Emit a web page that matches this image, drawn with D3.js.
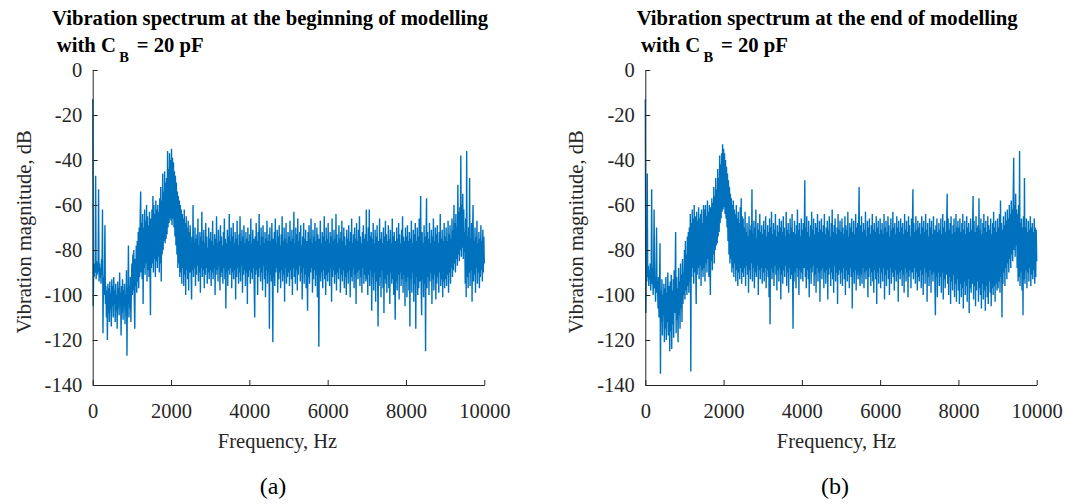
<!DOCTYPE html>
<html><head><meta charset="utf-8">
<script src="https://cdn.jsdelivr.net/npm/d3@7"></script>
<style>
body{margin:0;background:#fff}
svg{display:block}
text{font-family:"Liberation Serif","Times New Roman",Times,serif}
</style>
</head><body><svg id="c" width="1066" height="504"></svg>
<script>
// ---------------- data ----------------
const freqMax = 10000; // Hz, spectra sampled evenly from 0 to freqMax (12.5 Hz bins)
const xTickValues = [0, 2000, 4000, 6000, 8000, 10000];
const yTickValues = [0, -20, -40, -60, -80, -100, -120, -140];
const titlesLine1 = ["Vibration spectrum at the beginning of modelling", "Vibration spectrum at the end of modelling"];
const titleLine2 = ["with C", "B", "= 20 pF"];
const xLabel = "Frequency, Hz";
const yLabel = "Vibration magnitude, dB";
const captions = ["(a)", "(b)"];

// (a) beginning of modelling, magnitude in dB
const magA = [
-13,-105,-88,-92,-86,-90,-47,-93,-85,-91,-87,-90,-53,-94,-86,-92,-88,-95,-84,-91,-62,-117,-92,-100,-90,-69,-104,-96,-110,-98,-120,-95,-108,-97,-112,-94,-106,-99,-114,-93,
-105,-96,-110,-92,-104,-98,-112,-95,-107,-100,-115,-94,-106,-97,-109,-90,-103,-99,-118,-96,-108,-93,-111,-98,-105,-95,-113,-100,-107,-89,-127,-97,-104,-78,-110,-96,-106,-92,-112,-98,
-86,-100,-82,-98,-80,-104,-115,-84,-96,-78,-99,-76,-94,-72,-97,-70,-92,-66,-54,-90,-68,-93,-64,-104,-70,-88,-62,-91,-67,-86,-60,-94,-65,-89,-69,-92,-63,-87,-109,-66,
-88,-62,-86,-56,-90,-60,-84,-64,-92,-58,-85,-62,-88,-60,-83,-63,-90,-57,-86,-52,-94,-58,-82,-46,-80,-54,-76,-45,-77,-50,-75,-48,-73,-36,-70,-44,-68,-37,-66,-40,
-67,-35,-69,-39,-66,-41,-70,-45,-74,-47,-78,-50,-82,-54,-88,-56,-86,-58,-92,-60,-90,-62,-95,-64,-88,-66,-96,-62,-91,-68,-100,-65,-89,-70,-93,-67,-98,-72,-90,-69,
-76,-90,-102,-74,-89,-60,-92,-77,-88,-70,-96,-75,-91,-73,-87,-66,-94,-78,-90,-72,-99,-74,-88,-63,-92,-76,-89,-71,-97,-77,-91,-68,-88,-74,-95,-79,-90,-70,-93,-75,
-89,-72,-96,-76,-90,-67,-93,-78,-88,-73,-100,-75,-91,-65,-89,-77,-94,-71,-87,-76,-98,-69,-92,-74,-90,-78,-95,-72,-88,-66,-93,-75,-106,-77,-90,-71,-96,-74,-89,-64,
-91,-76,-88,-70,-97,-74,-90,-68,-93,-77,-89,-72,-102,-75,-92,-67,-88,-78,-95,-73,-90,-65,-94,-76,-87,-71,-99,-74,-91,-69,-89,-77,-96,-72,-90,-75,-104,-70,-92,-76,
-89,-73,-95,-66,-90,-77,-93,-71,-88,-75,-97,-110,-74,-91,-68,-89,-76,-100,-72,-92,-64,-88,-78,-94,-70,-90,-74,-98,-69,-87,-77,-93,-72,-101,-75,-89,-67,-95,-76,-90,
-73,-115,-70,-91,-76,-94,-68,-89,-121,-75,-92,-72,-96,-66,-90,-77,-88,-71,-99,-74,-93,-69,-90,-78,-97,-73,-89,-65,-94,-76,-91,-70,-103,-75,-88,-68,-95,-77,-92,-72,
-90,-74,-96,-67,-89,-76,-93,-71,-100,-75,-88,-63,-92,-77,-95,-70,-89,-73,-98,-66,-91,-76,-87,-72,-94,-69,-90,-78,-102,-74,-88,-68,-95,-75,-91,-71,-97,-76,-89,-107,
-72,-92,-69,-95,-75,-90,-66,-88,-77,-99,-71,-93,-74,-89,-68,-96,-76,-91,-70,-101,-73,-88,-123,-75,-92,-67,-94,-77,-90,-72,-97,-74,-89,-65,-93,-76,-100,-70,-91,-75,
-94,-68,-90,-77,-96,-72,-88,-74,-103,-66,-92,-76,-89,-71,-95,-75,-91,-64,-98,-73,-90,-77,-93,-69,-88,-75,-99,-72,-91,-67,-94,-76,-89,-70,-97,-74,-92,-78,-100,-71,
-90,-75,-95,-69,-89,-76,-101,-72,-92,-66,-94,-77,-88,-73,-97,-70,-91,-75,-104,-68,-90,-76,-93,-71,-89,-65,-96,-74,-92,-77,-99,-72,-88,-69,-95,-75,-91,-73,-94,-62,
-93,-76,-100,-70,-91,-62,-96,-74,-89,-72,-107,-75,-92,-68,-98,-77,-90,-71,-103,-74,-94,-69,-91,-114,-76,-96,-66,-92,-75,-101,-72,-89,-77,-97,-70,-108,-74,-93,-67,-95,
-73,-99,-76,-91,-69,-97,-75,-104,-71,-90,-77,-95,-66,-93,-74,-100,-72,-89,-111,-76,-94,-70,-98,-75,-91,-68,-102,-73,-90,-77,-96,-71,-93,-65,-99,-74,-91,-76,-105,-70,
-94,-74,-101,-69,-92,-76,-98,-72,-114,-75,-93,-67,-99,-77,-90,-71,-103,-73,-95,-68,-115,-76,-92,-70,-100,-74,-97,-66,-94,-75,-56,-96,-109,-72,-93,-77,-101,-69,-95,-74,
-125,-76,-57,-97,-72,-92,-75,-100,-68,-94,-77,-90,-71,-104,-74,-93,-66,-98,-76,-91,-70,-102,-73,-95,-69,-92,-77,-99,-72,-90,-64,-96,-75,-93,-71,-101,-76,-94,-68,-97,
-74,-93,-70,-96,-76,-91,-67,-99,-73,-90,-69,-95,-75,-88,-66,-92,-71,-89,-60,-86,-68,-90,-64,-84,-70,-87,-51,-82,-63,-85,-61,-80,-38,-83,-60,-79,-55,-84,-62,-81,
-72,-95,-66,-101,-36,-92,-74,-97,-70,-90,-48,-96,-75,-89,-68,-103,-73,-60,-94,-76,-91,-70,-99,-74,-88,-67,-95,-77,-90,-72,-97,-75,-92,-69,-89,-76,-94,-71,-90,-74,
-86
];

// (b) end of modelling, magnitude in dB
const magB = [
-13,-108,-90,-94,-46,-92,-87,-96,-89,-93,-86,-98,-91,-53,-95,-88,-100,-90,-62,-97,-92,-103,-89,-70,-99,-94,-106,-92,-110,-96,-77,-135,-98,-112,-93,-118,-100,-109,-95,-121,
-97,-115,-92,-120,-99,-112,-90,-118,-96,-110,-125,-94,-116,-91,-124,-98,-113,-93,-119,-89,-108,-95,-72,-117,-92,-111,-97,-121,-88,-109,-94,-115,-86,-106,-91,-112,-84,-104,-90,-100,
-80,-102,-76,-98,-82,-100,-74,-96,-72,-99,-70,-94,-64,-134,-68,-92,-62,-88,-66,-95,-60,-90,-65,-86,-104,-63,-91,-67,-88,-61,-93,-66,-87,-64,-96,-62,-89,-68,-92,-60,
-88,-62,-94,-60,-86,-65,-90,-58,-84,-63,-92,-60,-87,-100,-61,-85,-57,-89,-59,-82,-52,-86,-56,-80,-48,-78,-53,-77,-44,-74,-48,-72,-38,-68,-42,-66,-37,-63,-33,-62,
-35,-61,-37,-64,-40,-66,-43,-70,-46,-76,-49,-82,-52,-86,-55,-84,-57,-90,-60,-88,-58,-92,-62,-86,-64,-94,-60,-89,-66,-96,-63,-90,-68,-93,-61,-88,-57,-95,-65,-90,
-66,-92,-70,-88,-63,-96,-72,-87,-68,-91,-74,-99,-65,-89,-71,-93,-69,-86,-53,-94,-73,-88,-67,-97,-70,-90,-62,-92,-75,-87,-68,-100,-71,-89,-64,-93,-72,-88,-69,-95,
-73,-90,-67,-94,-71,-88,-65,-97,-74,-89,-69,-92,-72,-101,-66,-113,-70,-88,-63,-93,-73,-90,-68,-96,-71,-87,-64,-91,-74,-98,-69,-89,-72,-94,-66,-88,-70,-102,-67,-91,
-72,-95,-65,-89,-70,-92,-74,-87,-63,-96,-71,-90,-68,-99,-73,-88,-66,-93,-70,-91,-64,-89,-115,-72,-94,-67,-90,-73,-97,-69,-88,-62,-92,-71,-100,-68,-89,-74,-93,-66,
-90,-71,-94,-68,-88,-73,-49,-92,-70,-97,-65,-89,-72,-93,-67,-101,-74,-88,-69,-95,-63,-90,-71,-87,-66,-96,-73,-91,-68,-99,-70,-88,-64,-94,-72,-90,-67,-103,-71,-89,
-66,-93,-72,-88,-69,-97,-64,-90,-73,-95,-70,-89,-67,-102,-71,-91,-65,-88,-74,-96,-68,-90,-62,-93,-72,-99,-69,-87,-66,-94,-73,-90,-70,-104,-64,-91,-71,-89,-67,-95,
-72,-90,-66,-96,-70,-88,-73,-93,-65,-100,-69,-89,-71,-94,-63,-91,-74,-97,-68,-88,-70,-92,-66,-106,-72,-90,-67,-95,-73,-89,-64,-98,-70,-91,-68,-93,-72,-52,-89,-96,
-69,-91,-65,-95,-72,-88,-68,-97,-71,-90,-63,-93,-74,-89,-67,-101,-70,-92,-66,-88,-73,-96,-69,-90,-64,-94,-71,-99,-68,-89,-72,-93,-65,-104,-70,-90,-67,-95,-73,-88,
-66,-97,-71,-90,-68,-94,-73,-88,-64,-102,-70,-91,-67,-96,-72,-89,-65,-93,-69,-100,-74,-88,-66,-95,-71,-90,-63,-92,-70,-98,-68,-89,-73,-94,-65,-91,-70,-103,-67,-90,
-72,-93,-66,-89,-70,-96,-68,-91,-73,-99,-64,-88,-71,-94,-67,-90,-72,-101,-65,-92,-69,-89,-74,-97,-66,-90,-70,-53,-93,-68,-88,-72,-95,-65,-90,-71,-98,-67,-92,-70,
-94,-68,-89,-73,-97,-65,-91,-70,-100,-67,-88,-72,-95,-64,-90,-71,-103,-68,-92,-74,-96,-66,-89,-70,-99,-67,-91,-73,-94,-65,-90,-71,-97,-109,-69,-92,-66,-101,-72,-90,
-68,-96,-71,-92,-66,-99,-73,-90,-64,-102,-70,-93,-67,-97,-72,-91,-69,-55,-95,-66,-100,-71,-92,-68,-104,-65,-94,-73,-98,-69,-91,-66,-101,-72,-95,-64,-103,-70,-93,-67,
-98,-70,-104,-66,-95,-72,-101,-68,-97,-64,-106,-71,-94,-67,-100,-73,-96,-65,-103,-70,-93,-68,-108,-72,-97,-66,-99,-71,-95,-69,-56,-102,-67,-96,-72,-105,-65,-98,-70,-94,
-69,-103,-57,-97,-71,-100,-66,-106,-73,-95,-68,-102,-64,-98,-70,-107,-67,-96,-72,-101,-65,-104,-69,-94,-71,-99,-66,-105,-73,-97,-68,-100,-63,-96,-70,-103,-67,-95,-72,-98,
-66,-97,-70,-94,-64,-99,-58,-92,-68,-110,-71,-95,-65,-90,-69,-96,-63,-88,-67,-93,-62,-86,-66,-90,-60,-84,-64,-88,-58,-82,-62,-85,-56,-39,-80,-60,-83,-55,-78,-62,
-88,-64,-94,-60,-92,-36,-96,-68,-90,-66,-98,-70,-109,-65,-93,-48,-95,-70,-89,-66,-97,-72,-90,-67,-94,-71,-88,-65,-96,-70,-91,-68,-93,-72,-89,-66,-95,-70,-92,-71,
-85
];

// ---------------- drawing ----------------
const W = 1066, H = 504;
const svg = d3.select("#c");
svg.append("rect").attr("width", W).attr("height", H).attr("fill", "#fff");

const yTop = 70, yBot = 385;
const layout = [
  {x0: 92.7, x1: 484.3, t1: 52, t2: 56.7, ylab: 31, xlab: 277.5, cap: 273},
  {x0: 645.3, x1: 1036.7, t1: 636.7, t2: 641, ylab: 583, xlab: 836.5, cap: 835}
];
const FS = 20.5;
const axisColor = "#262626";

[magA, magB].forEach((mag, k) => {
  const L = layout[k];
  const x = d3.scaleLinear().domain([0, freqMax]).range([L.x0, L.x1]);
  const y = d3.scaleLinear().domain([-140, 0]).range([yBot, yTop]);
  const step = freqMax / (mag.length - 1);

  const g = svg.append("g");

  const line = d3.line().x((d, i) => x(i * step)).y(d => y(d));
  g.append("path").datum(mag)
    .attr("d", line)
    .attr("fill", "none")
    .attr("stroke", "#0072BD")
    .attr("stroke-width", 1.4)
    .attr("stroke-linejoin", "miter")
    .attr("stroke-miterlimit", 2);

  const xa = g.append("g").attr("transform", `translate(0,${yBot})`)
    .call(d3.axisBottom(x).tickValues(xTickValues).tickFormat(d3.format("d"))
      .tickSizeInner(-5).tickSizeOuter(0).tickPadding(18));
  const ya = g.append("g").attr("transform", `translate(${L.x0},0)`)
    .call(d3.axisLeft(y).tickValues(yTickValues).tickFormat(d => d)
      .tickSizeInner(-5).tickSizeOuter(0).tickPadding(10.5));
  [xa, ya].forEach(a => {
    a.attr("font-family", null);
    a.select(".domain").attr("stroke", axisColor).attr("stroke-width", 1);
    a.selectAll(".tick line").attr("stroke", axisColor).attr("stroke-width", 1);
    a.selectAll(".tick text").attr("fill", axisColor).style("font-size", FS + "px")
      .style("font-family", '"Liberation Serif","Times New Roman",serif');
  });

  // titles
  svg.append("text").attr("x", L.t1).attr("y", 25)
    .style("font-size", "20.7px").style("font-weight", "bold").attr("fill", "#000")
    .text(titlesLine1[k]);
  const t2 = svg.append("text").attr("y", 51.7)
    .style("font-size", "20.7px").style("font-weight", "bold").attr("fill", "#000");
  t2.append("tspan").attr("x", L.t2).attr("y", 51.7).text(titleLine2[0]);
  t2.append("tspan").attr("x", L.t2 + 62.5).attr("y", 61.5).style("font-size", "14.5px").text(titleLine2[1]);
  t2.append("tspan").attr("x", L.t2 + 80).attr("y", 51.7).text(titleLine2[2]);

  // axis labels
  svg.append("text").attr("x", L.xlab).attr("y", 448).attr("text-anchor", "middle")
    .style("font-size", FS + "px").attr("fill", axisColor).text(xLabel);
  svg.append("text").attr("transform", `translate(${L.ylab},232) rotate(-90)`)
    .attr("text-anchor", "middle")
    .style("font-size", FS + "px").attr("fill", axisColor).text(yLabel);

  // caption
  svg.append("text").attr("x", L.cap).attr("y", 494).attr("text-anchor", "middle")
    .style("font-size", "24px").attr("fill", "#000").text(captions[k]);
});
</script>
</body></html>
